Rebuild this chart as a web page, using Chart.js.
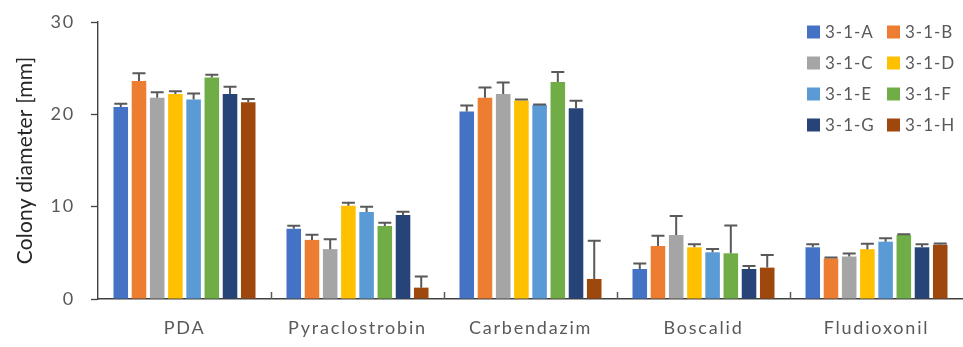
<!DOCTYPE html>
<html>
<head>
<meta charset="utf-8">
<script src="https://cdn.jsdelivr.net/npm/chart.js@4/dist/chart.umd.min.js"></script>
<style>
  html, body { margin: 0; padding: 0; background: #fff; }
  #wrap { width: 963px; height: 347px; }
</style>
</head>
<body>
<div id="wrap"><canvas id="grafico"></canvas></div>
<script>
const categories = ['PDA', 'Pyraclostrobin', 'Carbendazim', 'Boscalid', 'Fludioxonil'];
const seriesNames = ['3-1-A', '3-1-B', '3-1-C', '3-1-D', '3-1-E', '3-1-F', '3-1-G', '3-1-H'];
const colores = ['#4472C4', '#ED7D31', '#A5A5A5', '#FFC000', '#5B9BD5', '#70AD47', '#264478', '#9E480E'];
const yTicks = [0, 10, 20, 30];

// medias por cepa (mm)
const meanA = [20.8, 7.6, 20.3, 3.25, 5.6];
const meanB = [23.6, 6.4, 21.8, 5.74, 4.4];
const meanC = [21.8, 5.4, 22.2, 6.93, 4.6];
const meanD = [22.2, 10.1, 21.5, 5.6, 5.4];
const meanE = [21.6, 9.43, 21.0, 5.06, 6.21];
const meanF = [24.0, 7.9, 23.5, 4.95, 6.93];
const meanG = [22.2, 9.1, 20.66, 3.25, 5.6];
const meanH = [21.3, 1.23, 2.17, 3.4, 5.88];

// desvios (solo se dibuja la parte superior)
const errA = [0.35, 0.33, 0.65, 0.6, 0.32];
const errB = [0.85, 0.55, 1.1, 1.1, 0.1];
const errC = [0.6, 1.07, 1.25, 2.06, 0.33];
const errD = [0.3, 0.33, 0.1, 0.32, 0.58];
const errE = [0.65, 0.57, 0.07, 0.36, 0.36];
const errF = [0.3, 0.35, 1.08, 3.0, 0.07];
const errG = [0.8, 0.36, 0.8, 0.32, 0.32];
const errH = [0.35, 1.2, 4.15, 1.37, 0.12];

const medias = [meanA, meanB, meanC, meanD, meanE, meanF, meanG, meanH];
const errores = [errA, errB, errC, errD, errE, errF, errG, errH];

const gris = '#595959';
const fuente = 'Lato, "Open Sans", sans-serif';

// espaciado de letras para imitar el texto del original
const espaciado = {
  id: 'espaciado',
  beforeDraw(chart) { chart.ctx.letterSpacing = '1.8px'; }
};

// barras de error
const errorBars = {
  id: 'errorBars',
  afterDatasetsDraw(chart) {
    const ctx = chart.ctx;
    const y = chart.scales.y;
    ctx.save();
    ctx.strokeStyle = gris;
    ctx.lineWidth = 2;
    chart.data.datasets.forEach((ds, i) => {
      const meta = chart.getDatasetMeta(i);
      meta.data.forEach((bar, j) => {
        const top = y.getPixelForValue(ds.data[j] + ds.errores[j]);
        const half = 6.5;
        ctx.beginPath();
        ctx.moveTo(bar.x, bar.y);
        ctx.lineTo(bar.x, top);
        ctx.moveTo(bar.x - half, top);
        ctx.lineTo(bar.x + half, top);
        ctx.stroke();
      });
    });
    ctx.restore();
  }
};

// marcas entre categorias hacia adentro
const marcasX = {
  id: 'marcasX',
  afterDraw(chart) {
    const ctx = chart.ctx;
    const x = chart.scales.x;
    const bottom = chart.chartArea.bottom;
    ctx.save();
    ctx.strokeStyle = gris;
    ctx.lineWidth = 1.5;
    for (let i = 1; i < categories.length; i++) {
      const px = Math.round(x.getPixelForValue(i - 0.5)) + 0.5;
      ctx.beginPath();
      ctx.moveTo(px, bottom);
      ctx.lineTo(px, bottom - 7);
      ctx.stroke();
    }
    ctx.restore();
  }
};

// leyenda dentro del grafico, 2 columnas
const leyenda = {
  id: 'leyenda',
  afterDraw(chart) {
    const ctx = chart.ctx;
    ctx.save();
    ctx.font = '17px ' + fuente;
    ctx.letterSpacing = '1px';
    ctx.textBaseline = 'middle';
    chart.data.datasets.forEach((ds, i) => {
      const col = i % 2;
      const row = Math.floor(i / 2);
      const bx = 807 + col * 80;
      const cy = 32 + row * 31;
      ctx.fillStyle = ds.backgroundColor;
      ctx.fillRect(bx, cy - 6.5, 13, 13);
      ctx.fillStyle = gris;
      ctx.fillText(ds.label, bx + 18, cy + 1);
    });
    ctx.restore();
  }
};

new Chart(document.getElementById('grafico'), {
  type: 'bar',
  data: {
    labels: categories,
    datasets: seriesNames.map((n, i) => ({
      label: n,
      data: medias[i],
      errores: errores[i],
      backgroundColor: colores[i],
      categoryPercentage: 0.842,
      barPercentage: 0.8
    }))
  },
  options: {
    responsive: true,
    maintainAspectRatio: false,
    animation: false,
    layout: { padding: { top: 22, right: 0, left: 0, bottom: 0 } },
    plugins: {
      legend: { display: false },
      tooltip: { enabled: false }
    },
    scales: {
      x: {
        grid: { display: false, drawTicks: false },
        border: { color: '#404040', width: 1.6 },
        ticks: {
          color: gris,
          font: { family: fuente, size: 18 },
          padding: 18,
          maxRotation: 0,
          autoSkip: false
        },
        afterFit(scale) { scale.height = 48; }
      },
      y: {
        min: 0,
        max: 30,
        afterBuildTicks(scale) { scale.ticks = yTicks.map(v => ({ value: v })); },
        grid: { drawOnChartArea: false, tickLength: 7, color: '#404040', tickWidth: 1.3 },
        border: { color: '#404040', width: 1.4 },
        ticks: {
          color: gris,
          font: { family: fuente, size: 18 },
          padding: 16
        },
        title: {
          display: true,
          text: 'Colony diameter [mm]',
          color: '#262626',
          font: { family: fuente, size: 21 },
          padding: { top: 13, bottom: 0 }
        },
        afterFit(scale) {
          scale.width = 98;
          scale.paddingTop = 0;
          scale.paddingBottom = 0;
          if (!scale._tituloParchado) {
            const orig = scale.drawTitle;
            scale.drawTitle = function () {
              this.ctx.letterSpacing = '0.2px';
              orig.call(this);
              this.ctx.letterSpacing = '1.8px';
            };
            scale._tituloParchado = true;
          }
        }
      }
    }
  },
  plugins: [espaciado, errorBars, marcasX, leyenda]
});
</script>
</body>
</html>
